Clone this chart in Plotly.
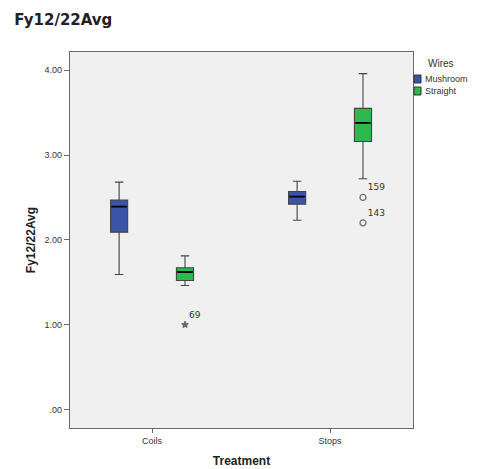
import plotly.graph_objects as go

categories = ["Coils", "Stops"]
series = ["Mushroom", "Straight"]
colors = {"Mushroom": "#3A54A6", "Straight": "#2DB94C"}

# box statistics per series, per category
lower = {"Mushroom": [1.59, 2.23], "Straight": [1.46, 2.72]}
q1 = {"Mushroom": [2.09, 2.42], "Straight": [1.52, 3.16]}
median = {"Mushroom": [2.39, 2.51], "Straight": [1.62, 3.38]}
q3 = {"Mushroom": [2.47, 2.57], "Straight": [1.67, 3.55]}
upper = {"Mushroom": [2.68, 2.69], "Straight": [1.81, 3.96]}

# outliers: (series, category index, value, case label, symbol)
out_series = ["Straight", "Straight", "Straight"]
out_cat = [0, 1, 1]
out_vals = [1.00, 2.50, 2.20]
out_labels = ["69", "159", "143"]
out_symbols = ["star", "circle-open", "circle-open"]

yticks = [0, 1, 2, 3, 4]
ytick_text = [".00", "1.00", "2.00", "3.00", "4.00"]

offset = {"Mushroom": -0.185, "Straight": 0.185}
box_w = 0.096

fig = go.Figure()
for s in series:
    xs = [i + offset[s] for i in range(len(categories))]
    fig.add_trace(go.Box(
        x=xs, q1=q1[s], median=median[s], q3=q3[s],
        lowerfence=lower[s], upperfence=upper[s],
        width=box_w, whiskerwidth=0.5,
        fillcolor=colors[s], line=dict(color="#444444", width=1.1),
        boxpoints=False, showlegend=False, hoverinfo="skip",
    ))
    # bold black median line
    fig.add_trace(go.Box(
        x=xs, q1=median[s], median=median[s], q3=median[s],
        lowerfence=median[s], upperfence=median[s],
        width=box_w * 0.9, whiskerwidth=0,
        fillcolor="black", line=dict(color="black", width=1.8),
        boxpoints=False, showlegend=False, hoverinfo="skip",
    ))

fig.add_trace(go.Scatter(
    x=[c + offset[s] for s, c in zip(out_series, out_cat)],
    y=out_vals, mode="markers+text", text=out_labels,
    textposition="top right",
    textfont=dict(size=9, color="#333333", family="DejaVu Sans"),
    marker=dict(symbol=out_symbols, size=[5, 6, 6], color="#333333",
                line=dict(color="#333333", width=1.2)),
    showlegend=False, hoverinfo="skip",
))

# manual legend (paper coords)
L, R, T, B = 70, 413, 52, 428
px = lambda v: (v - L) / (R - L)
py = lambda v: (B - v) / (B - T)
fig.add_annotation(x=px(441), y=py(63), xref="paper", yref="paper",
                   text="Wires", showarrow=False, xanchor="center",
                   yanchor="middle", font=dict(size=10, color="#333333"))
for k, s in enumerate(series):
    yc = 79 + 12 * k
    fig.add_shape(type="rect", xref="paper", yref="paper",
                  x0=px(414), x1=px(421), y0=py(yc + 4), y1=py(yc - 4),
                  fillcolor=colors[s], line=dict(color="#333333", width=1))
    fig.add_annotation(x=px(423), y=py(yc), xref="paper", yref="paper",
                       text=s, showarrow=False, xanchor="left",
                       yanchor="middle", font=dict(size=9, color="#333333"))

axis_line = "#6a6a6a"
fig.update_layout(
    width=478, height=469,
    margin=dict(l=70, r=65, t=52, b=41, autoexpand=False),
    paper_bgcolor="white", plot_bgcolor="#F0F0F0",
    showlegend=False,
    font=dict(family="Liberation Sans", size=9, color="#333333"),
    title=dict(text="<b>Fy12/22Avg</b>", x=0.03, xanchor="left", y=0.958,
               yanchor="middle", font=dict(size=15, color="#222222",
                                           family="DejaVu Sans")),
    xaxis=dict(range=[-0.461, 1.466], tickvals=[0, 1], ticktext=categories,
               showgrid=False, zeroline=False, showline=True, mirror=True,
               linecolor=axis_line, linewidth=1.2, ticks="outside",
               ticklen=4, tickcolor=axis_line,
               title=dict(text="<b>Treatment</b>", standoff=11,
                          font=dict(size=12, color="#222222"))),
    yaxis=dict(range=[-0.22, 4.215], tickvals=yticks, ticktext=ytick_text,
               showgrid=False, zeroline=False, showline=True, mirror=True,
               linecolor=axis_line, linewidth=1.2, ticks="outside",
               ticklen=5, tickcolor=axis_line,
               title=dict(text="<b>Fy12/22Avg</b>", standoff=6,
                          font=dict(size=12, color="#222222"))),
)

fig.write_html("out.html")
